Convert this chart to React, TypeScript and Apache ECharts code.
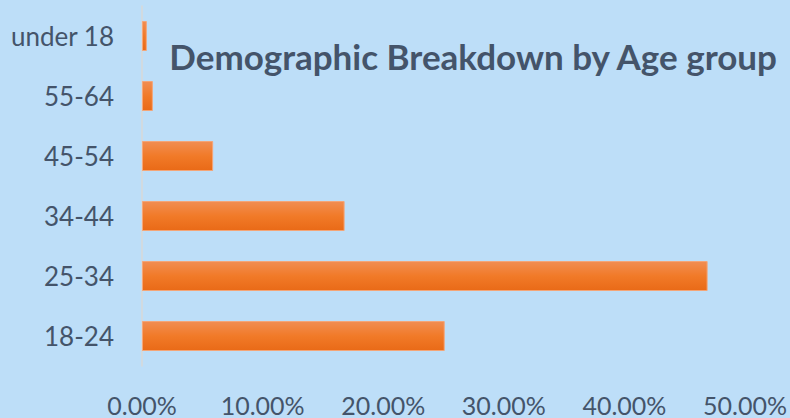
import React, { useEffect, useRef } from "react";
import * as echarts from "echarts";

const categories: string[] = ["18-24", "25-34", "34-44", "45-54", "55-64", "under 18"];
const shares: number[] = [25.1, 46.9, 16.8, 5.9, 0.9, 0.4];
const xTicks = { min: 0, max: 50, interval: 10 };
const titleText = "Demographic Breakdown by Age group";

export default function App() {
  const ref = useRef<HTMLDivElement>(null);
  useEffect(() => {
    if (!ref.current) return;
    const chart = echarts.init(ref.current, undefined, { renderer: "svg" });
    const font = "Lato, 'Open Sans', sans-serif";
    chart.setOption({
      animation: false,
      backgroundColor: "#BDDEF8",
      title: {
        text: titleText,
        right: 6,
        top: 33,
        textStyle: { fontFamily: font, fontWeight: "bold", fontSize: 35, color: "#44546A" },
      },
      grid: { left: 142, right: 45, top: 6, bottom: 52, containLabel: false },
      xAxis: {
        type: "value",
        min: xTicks.min,
        max: xTicks.max,
        interval: xTicks.interval,
        axisLine: { show: false },
        axisTick: { show: false },
        splitLine: { show: false },
        axisLabel: {
          formatter: (v: number) => v.toFixed(2) + "%",
          fontFamily: font,
          fontSize: 25,
          color: "#44546A",
          margin: 26,
        },
      },
      yAxis: {
        type: "category",
        data: categories,
        axisLine: { show: true, lineStyle: { color: "#D9D9D9", width: 1.5 } },
        axisTick: { show: false },
        axisLabel: { fontFamily: font, fontSize: 26, color: "#44546A", margin: 28 },
      },
      series: [
        {
          type: "bar",
          data: shares,
          barCategoryGap: "50%",
          itemStyle: {
            borderColor: "#F4A577",
            borderWidth: 1,
            color: new echarts.graphic.LinearGradient(0, 0, 0, 1, [
              { offset: 0, color: "#F18D52" },
              { offset: 0.5, color: "#F17A28" },
              { offset: 1, color: "#E96A17" },
            ]),
          },
        },
      ],
    });
    return () => chart.dispose();
  }, []);
  return <div ref={ref} style={{ width: 790, height: 418, position: "fixed", left: 0, top: 0 }} />;
}
